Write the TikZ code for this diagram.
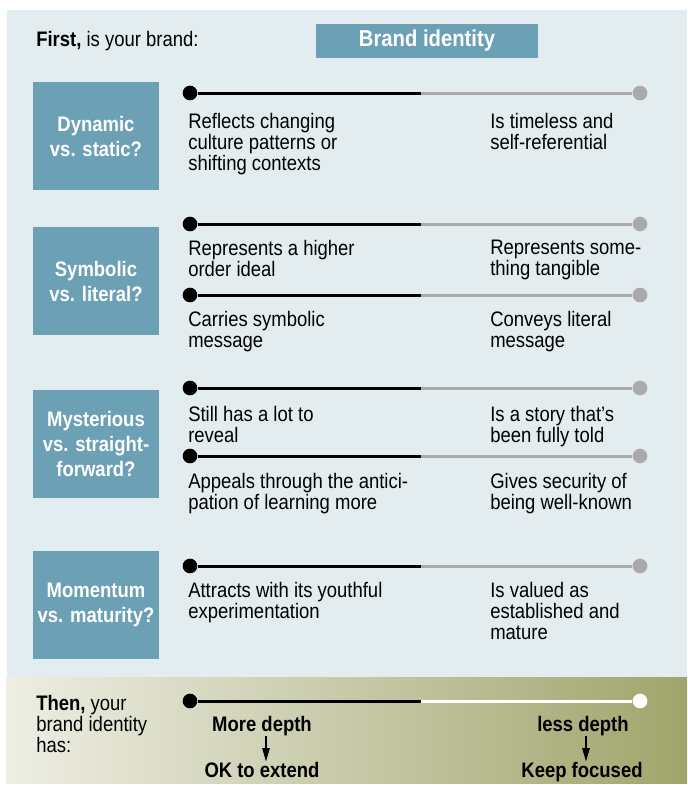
\documentclass[tikz,border=0pt]{standalone}
\usepackage{fontspec}
\setmainfont{Liberation Sans}[FakeStretch=0.88]
\usetikzlibrary{arrows.meta}
\definecolor{panel}{RGB}{227,236,239}
\definecolor{boxc}{RGB}{108,160,181}
\definecolor{lgray}{RGB}{170,170,170}
\definecolor{gleft}{RGB}{238,238,228}
\definecolor{gmid}{RGB}{204,207,174}
\definecolor{gright}{RGB}{160,165,108}
\newcommand\scaleline[3]{%
  \node[dotnode,fill=black] (#1a) at (190,#2) {};
  \coordinate (#1m) at (421,#2);
  \node[dotnode,fill=#3] (#1b) at (640,#2) {};
  \draw[scl,#3] (#1m) -- (#1b);
  \draw[scl,black] (#1a) -- (#1m);
}
\begin{document}
\begin{tikzpicture}[x=0.75pt,y=-0.75pt,
  body/.style={font=\fontsize{15.75}{15.75}\selectfont, anchor=north west, inner sep=0pt, align=left},
  single/.style={font=\fontsize{15.75}{15.75}\selectfont, inner sep=0pt},
  qbox/.style={fill=boxc, minimum width=94.5pt, minimum height=81pt, text=white,
    font=\bfseries\fontsize{15.75}{18.75}\selectfont, align=center, inner sep=0pt},
  dotnode/.style={circle, minimum size=11pt, inner sep=0pt},
  scl/.style={line width=2.25pt},
  darr/.style={line width=1.1pt, -{Triangle[length=10pt,width=5.5pt]}}]
\useasboundingbox (0,0) rectangle (687,785);
\fill[panel] (7,10) rectangle (687,677);
\shade[left color=gleft, middle color=gmid, right color=gright] (6,677) rectangle (687,783.5);

% header
\node[single, anchor=base west] (first) at (36,46.5) {\textbf{First,} is your brand:};
\node[fill=boxc, minimum width=166.5pt, minimum height=25.5pt, inner sep=0pt, text=white,
  font=\bfseries\fontsize{17.25}{17.25}\selectfont] (brand) at (427,41) {Brand identity};

% question boxes
\node[qbox] (q1) at (96,136) {Dynamic\\vs. static?};
\node[qbox] (q2) at (96,281) {Symbolic\\vs. literal?};
\node[qbox] (q3) at (96,444) {Mysterious\\vs. straight-\\forward?};
\node[qbox] (q4) at (96,605) {Momentum\\vs. maturity?};

% scale lines
\scaleline{s1}{93}{lgray}
\scaleline{s2}{224}{lgray}
\scaleline{s3}{295}{lgray}
\scaleline{s4}{388}{lgray}
\scaleline{s5}{456}{lgray}
\scaleline{s6}{566}{lgray}
\scaleline{s7}{701}{white}

% texts
\node[body] (t1l) at (188,113) {Reflects changing\\culture patterns or\\shifting contexts};
\node[body] (t1r) at (490,113) {Is timeless and\\self-referential};
\node[body] (t2l) at (188,240) {Represents a higher\\order ideal};
\node[body] (t2r) at (490,240) {Represents some-\\thing tangible};
\node[body] (t3l) at (188,311.5) {Carries symbolic\\message};
\node[body] (t3r) at (490,311.5) {Conveys literal\\message};
\node[body] (t4l) at (188,406) {Still has a lot to\\reveal};
\node[body] (t4r) at (490,406) {Is a story that’s\\been fully told};
\node[body] (t5l) at (188,473.5) {Appeals through the antici-\\pation of learning more};
\node[body] (t5r) at (490,473.5) {Gives security of\\being well-known};
\node[body] (t6l) at (188,582.5) {Attracts with its youthful\\experimentation};
\node[body] (t6r) at (490,582.5) {Is valued as\\established and\\mature};

% bottom
\node[body] (then) at (36,695) {\textbf{Then,} your\\brand identity\\has:};
\node[single, font=\bfseries\fontsize{15.75}{15.75}\selectfont, anchor=base] (md) at (262,731.5) {More depth};
\node[single, font=\bfseries\fontsize{15.75}{15.75}\selectfont, anchor=base] (ok) at (262,777) {OK to extend};
\node[single, font=\bfseries\fontsize{15.75}{15.75}\selectfont, anchor=base] (ld) at (583,731.5) {less depth};
\node[single, font=\bfseries\fontsize{15.75}{15.75}\selectfont, anchor=base] (kf) at (582,777) {Keep focused};
\draw[darr] ([xshift=3pt]md.south) -- ([xshift=3pt]ok.north);
\draw[darr] ([xshift=2.25pt]ld.south) -- ([xshift=3pt]kf.north);
\end{tikzpicture}
\end{document}
